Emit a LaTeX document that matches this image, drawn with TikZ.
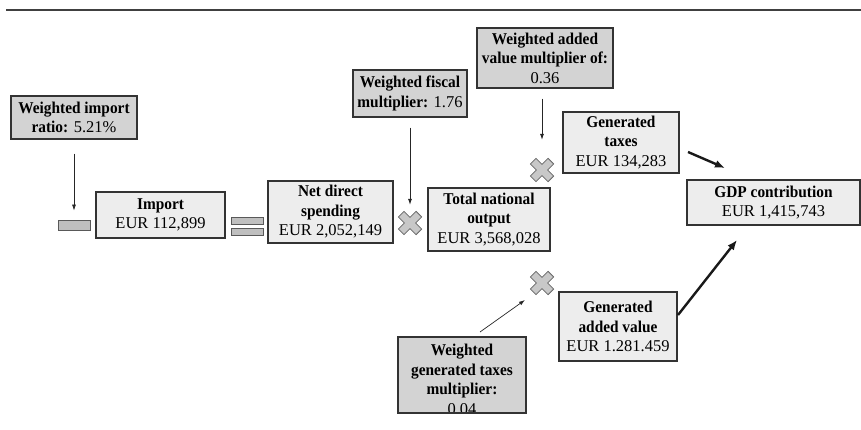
\documentclass[tikz,border=0pt]{standalone}
\usepackage{fontspec}
\setmainfont{Liberation Serif}[BoldFeatures={FakeStretch=0.93}]
\usetikzlibrary{arrows.meta}
\definecolor{boxdark}{HTML}{D3D3D3}
\definecolor{boxlight}{HTML}{EDEDED}
\definecolor{edgecol}{HTML}{333333}
\definecolor{crossfill}{HTML}{C8C8C8}
\tikzset{
  basebox/.style={draw=edgecol, line width=1.2pt, align=center, inner sep=0pt,
    font=\fontsize{16.5}{19.5}\selectfont},
  wbox/.style={basebox, fill=boxdark},
  lbox/.style={basebox, fill=boxlight},
  barbox/.style={draw=black!65, fill=black!25, line width=0.8pt, inner sep=0pt},
  crossnode/.style={minimum size=25pt, inner sep=0pt},
  thinarrow/.style={-{Latex[length=6pt,width=4pt]}, line width=0.7pt, draw=black!85},
  thickarrow/.style={-{Latex[length=10pt,width=8pt]}, line width=2.4pt, draw=black!90},
  xmark/.pic={
    \filldraw[fill=crossfill, draw=black!60, line width=0.8pt, rotate=45]
      (4,12.5) -- (4,4) -- (12.5,4) -- (12.5,-4) -- (4,-4) -- (4,-12.5)
      -- (-4,-12.5) -- (-4,-4) -- (-12.5,-4) -- (-12.5,4) -- (-4,4) -- (-4,12.5) -- cycle;
  }
}
\begin{document}
\begin{tikzpicture}[x=1pt,y=-1pt]
\useasboundingbox (0,0) rectangle (861,430);

% top rule
\draw[line width=1.5pt, draw=black!75] (6,10) -- (861,10);

% weighted boxes
\node[wbox, minimum width=126pt, minimum height=43pt] (wimp) at (74,117.5)
  {\textbf{Weighted import}\\\textbf{ratio:} 5.21\%};
\node[wbox, minimum width=114pt, minimum height=47pt] (wfis) at (410,93.5)
  {\textbf{Weighted fiscal}\\\textbf{multiplier:} 1.76};
\node[wbox, minimum width=136pt, minimum height=60pt] (wav) at (545,58)
  {\textbf{Weighted added}\\\textbf{value multiplier of:}\\0.36};
\node[wbox, minimum width=128pt, minimum height=76pt,
  path picture={\node[align=center, inner sep=0pt, anchor=north,
      font=\fontsize{16.5}{19.5}\selectfont]
      at ([yshift=-4pt]path picture bounding box.north)
      {\textbf{Weighted}\\\textbf{generated taxes}\\\textbf{multiplier:}\\0.04};}]
  (wgt) at (462,375) {};

% operators
\node[barbox, minimum width=32pt, minimum height=10pt] (minus) at (74,225) {};
\node[barbox, minimum width=32pt, minimum height=7pt] (eqa) at (247,220.5) {};
\node[barbox, minimum width=32pt, minimum height=7pt] (eqb) at (247,231.5) {};
\node[crossnode] (c1) at (410,223) {};
\node[crossnode] (c2) at (542,170) {};
\node[crossnode] (c3) at (542,283) {};
\pic at (c1) {xmark};
\pic at (c2) {xmark};
\pic at (c3) {xmark};

% value boxes
\node[lbox, minimum width=129pt, minimum height=46pt] (import) at (160.5,215)
  {\textbf{Import}\\EUR 112,899};
\node[lbox, minimum width=125pt, minimum height=62pt] (nds) at (330.5,212)
  {\textbf{Net direct}\\\textbf{spending}\\EUR 2,052,149};
\node[lbox, minimum width=122pt, minimum height=63pt] (tno) at (489,219.5)
  {\textbf{Total national}\\\textbf{output}\\EUR 3,568,028};
\node[lbox, minimum width=116pt, minimum height=61pt] (gt) at (621,142.5)
  {\textbf{Generated}\\\textbf{taxes}\\EUR 134,283};
\node[lbox, minimum width=173pt, minimum height=45pt] (gdp) at (773.5,202.5)
  {\textbf{GDP contribution}\\EUR 1,415,743};
\node[lbox, minimum width=118pt, minimum height=69pt] (gav) at (618,326.5)
  {\textbf{Generated}\\\textbf{added value}\\EUR 1.281.459};

% connectors
\draw[thinarrow, shorten <=14pt, shorten >=9pt] (wimp.south) -- (minus.north);
\draw[thinarrow, shorten <=10pt, shorten >=5.5pt] (wfis.south) -- (c1.north);
\draw[thinarrow, shorten <=10pt, shorten >=17.5pt] (wav.south -| c2.north) -- (c2.north);
\coordinate (wgtout) at (480,332);
\coordinate (c3in) at (525,300);
\draw[thinarrow] (wgtout) -- (c3in);
\coordinate (gtout) at (688,152);
\coordinate (gdpin1) at (725,168);
\draw[thickarrow] (gtout) -- (gdpin1);
\coordinate (gavout) at (678,315);
\coordinate (gdpin2) at (737,240);
\draw[thickarrow] (gavout) -- (gdpin2);
\end{tikzpicture}
\end{document}
